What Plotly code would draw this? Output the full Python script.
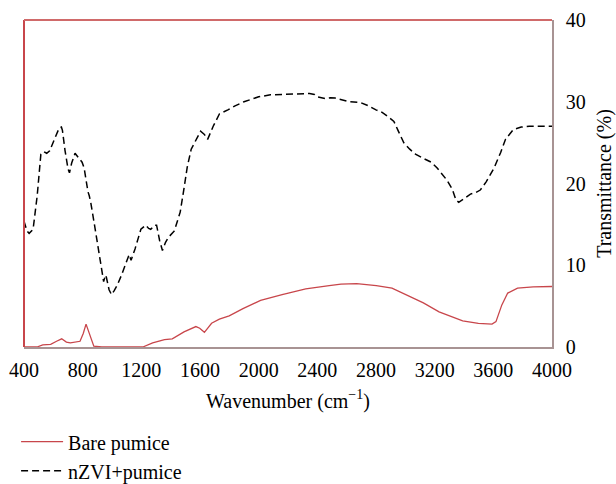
import plotly.graph_objects as go

# nZVI+pumice (dashed black)
nzvi_x = [400, 420, 435, 462, 490, 515, 535, 555, 575, 609, 640, 655, 662, 680, 700, 710, 725, 748, 770, 796,
          810, 825, 836, 845, 855, 880, 903, 925, 943, 955, 962, 980, 997, 1015, 1037, 1065, 1090, 1117, 1130, 1157,
          1197, 1229, 1250, 1264, 1290, 1304, 1325, 1344, 1365, 1384, 1425, 1465, 1491, 1513, 1540, 1572, 1604, 1630,
          1652, 1690, 1732, 1790, 1839, 1900, 1946, 2000, 2080, 2200, 2347, 2380, 2401, 2454, 2490, 2521, 2560, 2615,
          2695, 2749, 2800, 2842, 2880, 2922, 2950, 2989, 3030, 3069, 3120, 3177, 3217, 3250, 3284, 3320, 3345, 3364,
          3400, 3444, 3480, 3511, 3551, 3605, 3650, 3683, 3736, 3790, 3845, 3900, 4000]
nzvi_y = [15.4, 14.2, 13.9, 14.4, 18.5, 23.6, 23.9, 23.7, 24.0, 25.4, 26.8, 26.9, 26.5, 24.0, 21.8, 21.3, 22.5, 23.7, 23.2, 22.6,
          21.9, 20.0, 19.0, 18.5, 17.7, 15.0, 12.4, 10.0, 8.0, 8.8, 8.5, 7.0, 6.4, 6.9, 7.6, 8.8, 9.9, 11.3, 10.6, 12.0,
          14.4, 14.9, 14.5, 14.4, 14.9, 14.9, 13.0, 11.8, 12.8, 13.4, 14.2, 16.5, 19.4, 22.0, 24.2, 25.4, 26.4, 26.0,
          25.4, 27.0, 28.5, 29.0, 29.5, 30.0, 30.3, 30.6, 30.85, 30.95, 31.0, 30.9, 30.6, 30.4, 30.5, 30.45, 30.3, 30.0,
          29.9, 29.5, 29.0, 28.7, 28.2, 27.6, 26.5, 25.0, 24.2, 23.6, 23.1, 22.6, 21.9, 21.2, 20.4, 19.3, 18.0, 17.7,
          18.2, 18.7, 18.9, 19.2, 20.2, 21.9, 23.8, 25.4, 26.6, 26.9, 27.0, 27.0, 27.0]

# Bare pumice (solid red)
bare_x = [400, 488, 528, 582, 622, 657, 689, 716, 782, 804, 823, 844, 876, 930, 1210, 1277, 1358, 1411, 1491, 1572,
          1598, 1630, 1679, 1732, 1799, 1893, 2013, 2160, 2321, 2481, 2561, 2668, 2802, 2909, 3016, 3123, 3230, 3310,
          3391, 3498, 3591, 3618, 3658, 3698, 3765, 3872, 4000]
bare_y = [0.0, 0.0, 0.25, 0.33, 0.7, 1.0, 0.6, 0.5, 0.7, 1.65, 2.8, 1.65, 0.1, 0.0, 0.0, 0.5, 0.9, 1.0, 1.85, 2.5,
          2.3, 1.8, 2.9, 3.4, 3.8, 4.7, 5.7, 6.4, 7.1, 7.5, 7.7, 7.75, 7.5, 7.2, 6.35, 5.4, 4.3, 3.8,
          3.2, 2.9, 2.8, 3.1, 5.15, 6.6, 7.2, 7.35, 7.4]

x_ticks = [400, 800, 1200, 1600, 2000, 2400, 2800, 3200, 3600, 4000]
y_ticks = [0, 10, 20, 30, 40]

RED = "#c8464b"
AXIS_GREY = "#a89393"
FONT = "Liberation Serif"
FS = 20

fig = go.Figure()
fig.add_trace(go.Scatter(x=bare_x, y=bare_y, mode="lines", name="Bare pumice",
                         line=dict(color=RED, width=1.3)))
fig.add_trace(go.Scatter(x=nzvi_x, y=nzvi_y, mode="lines", name="nZVI+pumice",
                         line=dict(color="black", width=1.5, dash="7px,4px")))

fig.update_layout(
    width=616, height=484,
    margin=dict(l=24, r=64, t=20, b=137, autoexpand=False),
    paper_bgcolor="white", plot_bgcolor="white",
    font=dict(family=FONT, size=FS, color="black"),
    showlegend=True,
    legend=dict(x=-0.015, xanchor="left", y=-0.23, yanchor="top",
                font=dict(family=FONT, size=FS), tracegroupgap=0, itemwidth=42,
                bgcolor="rgba(0,0,0,0)"),
    xaxis=dict(range=[400, 4000], tickvals=x_ticks, ticktext=[str(v) for v in x_ticks],
               showgrid=False, zeroline=False, showline=True, linecolor=AXIS_GREY, linewidth=1.5,
               ticks="", ticklabelstandoff=4, tickfont=dict(family=FONT, size=FS), automargin=False,
               title=dict(text="Wavenumber (cm<sup>−1</sup>)", font=dict(family=FONT, size=FS), standoff=14)),
    yaxis=dict(range=[0, 40], tickvals=y_ticks, side="right",
               showgrid=False, zeroline=False, showline=True, linecolor=AXIS_GREY, linewidth=1.5,
               ticks="", ticklabelstandoff=8, tickfont=dict(family=FONT, size=FS), automargin=False,
               title=dict(text="Transmittance (%)", font=dict(family=FONT, size=FS), standoff=12)),
    shapes=[
        dict(type="line", xref="paper", yref="paper", x0=0, x1=0, y0=0, y1=1,
             line=dict(color=RED, width=2)),
        dict(type="line", xref="paper", yref="paper", x0=0, x1=1, y0=1, y1=1,
             line=dict(color="#d06a6a", width=2)),
    ],
)

fig.write_html("out.html")
